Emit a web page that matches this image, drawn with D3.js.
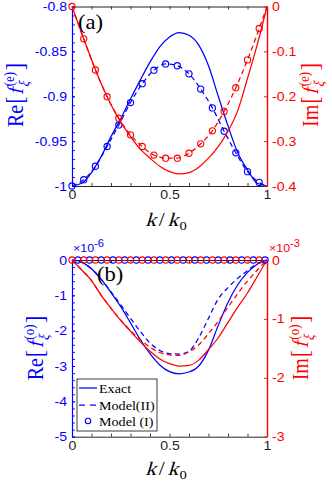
<!DOCTYPE html>
<html><head><meta charset="utf-8">
<script src="https://cdn.jsdelivr.net/npm/d3@7"></script>
<style>body{margin:0;background:#fff}svg{display:block}</style>
</head><body><svg id="c" width="332" height="482"></svg>
<script>
// ---------- data ----------
const kGrid = [0,0.05,0.1,0.15,0.2,0.25,0.3,0.35,0.4,0.45,0.5,0.55,0.6,0.65,0.7,0.75,0.8,0.85,0.9,0.95,1];
const kMarks = [0,0.06,0.12,0.18,0.24,0.3,0.36,0.42,0.48,0.54,0.6,0.66,0.72,0.78,0.84,0.9,0.96];
const kModel = [0,0.06,0.12,0.18,0.24,0.3,0.36,0.42,0.48,0.54,0.6,0.66,0.72,0.78,0.84,0.9,0.96,1];
const kMarksShift = [0.03,0.09,0.15,0.21,0.27,0.33,0.39,0.45,0.51,0.57,0.63,0.69,0.75,0.81,0.87,0.93,0.99];

// panel (a): even part
const reExactE = [-1,-0.997,-0.985,-0.967,-0.945,-0.925,-0.903,-0.882,-0.862,-0.845,-0.834,-0.829,-0.832,-0.843,-0.866,-0.9,-0.933,-0.963,-0.982,-0.997,-1];
const imExactE = [0,-0.06,-0.118,-0.172,-0.219,-0.258,-0.29,-0.318,-0.338,-0.356,-0.368,-0.373,-0.37,-0.358,-0.338,-0.312,-0.278,-0.232,-0.16,-0.085,0];
const reModel2E = [-1,-0.993,-0.978,-0.956,-0.932,-0.907,-0.886,-0.871,-0.864,-0.866,-0.875,-0.892,-0.913,-0.939,-0.963,-0.984,-0.996,-1];
const imModel2E = [0,-0.072,-0.1415,-0.201,-0.249,-0.286,-0.312,-0.331,-0.338,-0.338,-0.327,-0.306,-0.277,-0.234,-0.181,-0.119,-0.049,0];
const reModel1E = [-1,-0.993,-0.978,-0.956,-0.932,-0.907,-0.886,-0.871,-0.864,-0.866,-0.875,-0.892,-0.913,-0.939,-0.963,-0.984,-0.996];
const imModel1E = [0,-0.072,-0.1415,-0.201,-0.249,-0.286,-0.312,-0.331,-0.338,-0.338,-0.327,-0.306,-0.277,-0.234,-0.181,-0.119,-0.049];

// panel (b): odd part (Re in 1e-6, Im in 1e-3)
const reExactO = [0,-0.06,-0.25,-0.55,-0.92,-1.32,-1.78,-2.25,-2.65,-2.97,-3.16,-3.22,-3.17,-3.0,-2.55,-1.85,-1.2,-0.7,-0.35,-0.12,0];
const reModel2O = [0,-0.06,-0.25,-0.55,-0.9,-1.27,-1.65,-2.02,-2.35,-2.56,-2.65,-2.66,-2.58,-2.2,-1.65,-1.1,-0.78,-0.52,-0.3,-0.1,0];
const imExactO = [0,-0.17,-0.35,-0.6,-0.82,-1.03,-1.21,-1.39,-1.55,-1.68,-1.76,-1.8,-1.79,-1.7,-1.52,-1.32,-1.06,-0.8,-0.56,-0.28,0];
const imModel2O = [0,-0.17,-0.35,-0.6,-0.82,-1.02,-1.2,-1.35,-1.48,-1.57,-1.61,-1.62,-1.56,-1.44,-1.25,-1.04,-0.8,-0.57,-0.36,-0.17,0];
const reModel1O = [0,0,0,0,0,0,0,0,0,0,0,0,0,0,0,0,0];
const imModel1O = [0,0,0,0,0,0,0,0,0,0,0,0,0,0,0,0,0];

// ticks
const xTicks = [0,0.1,0.2,0.3,0.4,0.5,0.6,0.7,0.8,0.9,1];
const xTickLabels = [0,0.5,1];
const yReETicks = [-1,-0.95,-0.9,-0.85,-0.8];
const yReEMinor = d3.range(-100,-79,1).map(d=>d/100);
const yImETicks = [-0.4,-0.3,-0.2,-0.1,0];
const yReOTicks = [-5,-4,-3,-2,-1,0];
const yReOMinor = d3.range(-25,1,1).map(d=>d/5);
const yImOTicks = [-3,-2,-1,0];
const legendLabels = ["Exact","Model(II)","Model (I)"];

// ---------- style ----------
const BLUE="#0000ff", RED="#ff0000", AX="#262626";
const SERIF="'Liberation Serif',serif";
const SANS="'Liberation Sans',Arial,Helvetica,sans-serif";
const SX=1.13, FS=12.5, LW=1.25;

const svg=d3.select("#c");
const L=72, R=267;
const x=d3.scaleLinear([0,1],[L,R]);
const topA=6.5, botA=186, topB=260, botB=436.7;
const yReE=d3.scaleLinear([-1,-0.8],[botA,topA]);
const yImE=d3.scaleLinear([-0.4,0],[botA,topA]);
const yReO=d3.scaleLinear([-5,0],[botB,topB]);
const yImO=d3.scaleLinear([-3,0],[botB,topB]);

const fmt = d => String(+d.toFixed(2));

function styleTicks(ga,color){
  ga.attr("font-family",SANS).attr("font-size",FS);
  ga.selectAll(".tick line").attr("stroke",color).attr("stroke-width",0.9);
  ga.selectAll(".tick text").attr("fill",color).each(function(){
    const t=d3.select(this); const xx=+t.attr("x")||0;
    t.attr("x",xx/SX).attr("transform",`scale(${SX},1)`);
  });
}

function panel(yL,yR,top,bot,leftTicks,leftMinor,rightTicks){
  const g=svg.append("g");
  const gt=g.append("g").attr("transform",`translate(0,${top})`)
    .call(d3.axisTop(x).tickValues(xTicks).tickSizeInner(-3).tickSizeOuter(0).tickFormat(""));
  gt.select(".domain").attr("stroke",AX).attr("stroke-width",1);
  styleTicks(gt,AX);
  const gb=g.append("g").attr("transform",`translate(0,${bot})`)
    .call(d3.axisBottom(x).tickValues(xTicks).tickSizeInner(-3).tickSizeOuter(0).tickPadding(4)
      .tickFormat(d=>xTickLabels.some(v=>Math.abs(v-d)<1e-9)?fmt(d):""));
  gb.select(".domain").attr("stroke",AX).attr("stroke-width",1);
  styleTicks(gb,AX);
  const glm=g.append("g").attr("transform",`translate(${L},0)`)
    .call(d3.axisLeft(yL).tickValues(leftMinor).tickSizeInner(-3).tickSizeOuter(0).tickFormat(""));
  glm.select(".domain").remove(); styleTicks(glm,BLUE);
  const gl=g.append("g").attr("transform",`translate(${L},0)`)
    .call(d3.axisLeft(yL).tickValues(leftTicks).tickSizeInner(-3).tickSizeOuter(0).tickPadding(5).tickFormat(fmt));
  gl.select(".domain").attr("stroke",BLUE).attr("stroke-width",1.2);
  styleTicks(gl,BLUE);
  const gr=g.append("g").attr("transform",`translate(${R},0)`)
    .call(d3.axisRight(yR).tickValues(rightTicks).tickSizeInner(-3).tickSizeOuter(0).tickPadding(5).tickFormat(fmt));
  gr.select(".domain").attr("stroke",RED).attr("stroke-width",1.4);
  styleTicks(gr,RED);
  return g;
}

function line(ks,vals,ys,color,dash){
  const ln=d3.line().x(d=>x(d[0])).y(d=>ys(d[1])).curve(d3.curveMonotoneX);
  svg.append("path").attr("d",ln(ks.map((k,i)=>[k,vals[i]])))
    .attr("fill","none").attr("stroke",color).attr("stroke-width",LW)
    .attr("stroke-dasharray",dash?"5,3.5":null);
}
function marks(ks,vals,ys,color){
  svg.append("g").selectAll("circle").data(ks.map((k,i)=>[k,vals[i]])).join("circle")
    .attr("cx",d=>x(d[0])).attr("cy",d=>ys(d[1])).attr("r",3.1)
    .attr("fill","none").attr("stroke",color).attr("stroke-width",1.1);
}

function stext(parent,xx,yy,str,o){
  return parent.append("text").attr("transform",`translate(${xx},${yy}) scale(${SX},1)`)
    .attr("font-family",o.family||SERIF).attr("font-size",o.size).attr("fill",o.color||"#000")
    .attr("text-anchor",o.anchor||"start").text(str);
}

function mathLabel(cx,cy,rot,parts,color){
  const g=svg.append("g").attr("transform",rot?`translate(${cx},${cy}) rotate(-90) scale(1,${SX})`:`translate(${cx},${cy}) scale(${SX},1)`);
  const inner=g.append("g");
  let pos=0;
  // italic is emulated with a skew of the upright serif face
  const mk=(str,px,py,size,it)=>inner.append("text")
      .attr("transform",`translate(${px},${py})${it?" skewX(-15)":""}`)
      .attr("font-family",SERIF).attr("font-size",size).attr("fill",color).text(str);
  for(const p of parts){
    if(p.sup!==undefined||p.sub!==undefined){
      let w=0;
      if(p.sup){const t=mk(p.sup,pos,p.supY,p.size,false);w=Math.max(w,t.node().getComputedTextLength());}
      if(p.sub){const t=mk(p.sub,pos+(p.subDx||0),p.subY,p.size,p.subIt);w=Math.max(w,t.node().getComputedTextLength());}
      pos+=w+(p.gap||0);
    } else {
      const t=mk(p.t,pos,0,p.size,p.it);
      pos+=t.node().getComputedTextLength()+(p.gap||0);
    }
  }
  inner.attr("transform",`translate(${-pos/2},0)`);
}
const yLab=(name,par)=>[{t:name,size:20,gap:1},{t:"[",size:22,gap:1.5},{t:"f",size:20,it:true,gap:2},
  {sup:par,supY:-8,sub:"ξ",subY:5.5,subDx:-1,size:13,subIt:true,gap:1.5},{t:"]",size:22}];
const xLab=[{t:"k",size:19,it:true,gap:2.5},{t:"/",size:19,gap:2.5},{t:"k",size:19,it:true,gap:1},{sub:"0",subY:3.5,size:13}];

// ---------- panel (a) ----------
panel(yReE,yImE,topA,botA,yReETicks,yReEMinor,yImETicks);
line(kGrid,reExactE,yReE,BLUE,false);
line(kModel,reModel2E,yReE,BLUE,true);
marks(kMarks,reModel1E,yReE,BLUE);
line(kGrid,imExactE,yImE,RED,false);
line(kModel,imModel2E,yImE,RED,true);
marks(kMarks,imModel1E,yImE,RED);
stext(svg,78,29,"(a)",{size:20});
mathLabel(23,95,true,yLab("Re","(e)"),BLUE);
mathLabel(318,95,true,yLab("Im","(e)"),RED);
mathLabel(166,226,false,xLab,"#000");

// ---------- panel (b) ----------
panel(yReO,yImO,topB,botB,yReOTicks,yReOMinor,yImOTicks);
line(kGrid,reExactO,yReO,BLUE,false);
line(kGrid,reModel2O,yReO,BLUE,true);
line(kGrid,imExactO,yImO,RED,false);
line(kGrid,imModel2O,yImO,RED,true);
marks(kMarksShift,reModel1O,yReO,BLUE);
marks(kMarks,imModel1O,yImO,RED);
stext(svg,97,281,"(b)",{size:20});
mathLabel(43,348,true,yLab("Re","(o)"),BLUE);
mathLabel(308,348,true,yLab("Im","(o)"),RED);
mathLabel(166,475,false,xLab,"#000");

// exponent labels
function expo(xx,yy,base,ex,color){
  const t=stext(svg,xx,yy,"",{family:SANS,size:11,color});
  t.append("tspan").text(base);
  t.append("tspan").attr("dy",-5).attr("font-size",10).text(ex);
}
expo(73,252,"×10","-6",BLUE);
expo(269,252,"×10","-3",RED);

// legend
const lg=svg.append("g");
lg.append("rect").attr("x",77).attr("y",379).attr("width",80).attr("height",52)
  .attr("fill","#fff").attr("stroke",AX).attr("stroke-width",0.9);
const rows=[388,405,421];
lg.append("line").attr("x1",79).attr("x2",97).attr("y1",rows[0]).attr("y2",rows[0]).attr("stroke",BLUE).attr("stroke-width",LW);
lg.append("line").attr("x1",79).attr("x2",97).attr("y1",rows[1]).attr("y2",rows[1]).attr("stroke",BLUE).attr("stroke-width",LW).attr("stroke-dasharray","6,5");
lg.append("circle").attr("cx",88).attr("cy",rows[2]).attr("r",2.7).attr("fill","none").attr("stroke",BLUE).attr("stroke-width",1.1);
legendLabels.forEach((s,i)=>stext(lg,99,rows[i]+4.5,s,{size:12.5}));
</script></body></html>
